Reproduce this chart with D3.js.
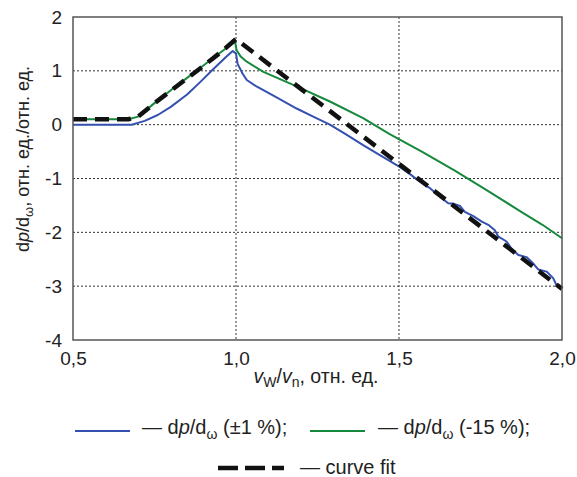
<!DOCTYPE html>
<html><head><meta charset="utf-8">
<script src="https://cdn.jsdelivr.net/npm/d3@7"></script>
<style>body{margin:0;background:#fff}svg{font-family:"Liberation Sans",Arial,sans-serif}</style>
</head><body>
<svg id="c" width="577" height="477"></svg>
<script>
const xTicks = [0.5, 1.0, 1.5, 2.0];
const xTickLabels = ["0,5", "1,0", "1,5", "2,0"];
const yTicks = [2, 1, 0, -1, -2, -3, -4];
const yTickLabels = ["2", "1", "0", "-1", "-2", "-3", "-4"];

const blueX = [0.5,0.68,0.72,0.76,0.8,0.85,0.89,0.93,0.97,0.99,1.0,1.005,1.02,1.033,1.06,1.084,1.13,1.186,1.24,1.288,1.34,1.39,1.44,1.493,1.53,1.564,1.595,1.626,1.651,1.667,1.687,1.702,1.728,1.754,1.774,1.794,1.805,1.83,1.845,1.866,1.891,1.912,1.927,1.953,1.973,1.983,2.0];
const blueY = [0,0,0.07,0.18,0.33,0.56,0.79,1.03,1.26,1.37,1.32,1.13,0.95,0.83,0.72,0.64,0.49,0.30,0.14,0.0,-0.19,-0.38,-0.56,-0.75,-0.9,-1.06,-1.18,-1.34,-1.46,-1.47,-1.51,-1.62,-1.70,-1.80,-1.86,-1.96,-2.08,-2.17,-2.30,-2.42,-2.46,-2.58,-2.69,-2.73,-2.85,-2.98,-3.04];

const greenX = [0.5,0.67,0.7,0.75,0.8,0.85,0.9,0.95,0.997,1.002,1.015,1.033,1.084,1.186,1.288,1.39,1.47,1.57,1.67,1.77,1.87,1.94,2.0];
const greenY = [0.1,0.1,0.15,0.4,0.64,0.87,1.1,1.33,1.54,1.38,1.26,1.17,0.98,0.71,0.43,0.12,-0.17,-0.5,-0.85,-1.22,-1.6,-1.86,-2.11];

const fitX = [0.5,0.67,0.7,0.75,0.8,0.85,0.9,0.95,1.0,2.0];
const fitY = [0.1,0.1,0.15,0.4,0.63,0.86,1.09,1.33,1.59,-3.05];

const svg = d3.select("#c");
const L = 73, R = 562, T = 17, B = 340;
const x = d3.scaleLinear().domain([0.5, 2.0]).range([L, R]);
const y = d3.scaleLinear().domain([-4, 2]).range([B, T]);
const FONT = "Liberation Sans, Arial, sans-serif";

// grid
const g = svg.append("g");
g.selectAll(".gx").data(xTicks.slice(1, -1)).enter().append("line")
  .attr("x1", d => x(d)).attr("x2", d => x(d)).attr("y1", T).attr("y2", B)
  .attr("stroke", "#333").attr("stroke-width", 1).attr("stroke-dasharray", "2,2");
g.selectAll(".gy").data(yTicks.slice(1, -1)).enter().append("line")
  .attr("y1", d => y(d)).attr("y2", d => y(d)).attr("x1", L).attr("x2", R)
  .attr("stroke", "#333").attr("stroke-width", 1).attr("stroke-dasharray", "2,2");

// axes
const xAxis = d3.axisBottom(x).tickValues(xTicks).tickFormat((d, i) => xTickLabels[i]).tickSize(0).tickPadding(12);
const xa = svg.append("g").attr("transform", `translate(0,${B})`).call(xAxis);
xa.select(".domain").remove();
xa.selectAll("text").attr("font-size", 19).attr("fill", "#222").attr("font-family", FONT);

const yAxis = d3.axisLeft(y).tickValues(yTicks).tickFormat((d, i) => yTickLabels[i]).tickSize(0).tickPadding(11);
const ya = svg.append("g").attr("transform", `translate(${L},0)`).call(yAxis);
ya.select(".domain").remove();
ya.selectAll("text").attr("font-size", 19).attr("fill", "#222").attr("font-family", FONT);

// lines
const line = d3.line().x(d => x(d[0])).y(d => y(d[1]));
const zip = (a, b) => a.map((v, i) => [v, b[i]]);
svg.append("path").datum(zip(blueX, blueY)).attr("d", line).attr("fill", "none")
  .attr("stroke", "#3450b0").attr("stroke-width", 2).attr("stroke-linejoin", "round");
svg.append("path").datum(zip(greenX, greenY)).attr("d", line).attr("fill", "none")
  .attr("stroke", "#16893c").attr("stroke-width", 2).attr("stroke-linejoin", "round");
svg.append("path").datum(zip(fitX, fitY)).attr("d", line).attr("fill", "none")
  .attr("stroke", "#111").attr("stroke-width", 4.5).attr("stroke-dasharray", "14,8");

// frame
svg.append("rect").attr("x", L).attr("y", T).attr("width", R - L).attr("height", B - T)
  .attr("fill", "none").attr("stroke", "#555").attr("stroke-width", 1.5);

// axis titles
const xt = svg.append("text").attr("x", 316).attr("y", 383).attr("text-anchor", "middle")
  .attr("font-size", 19.5).attr("fill", "#222");
xt.append("tspan").attr("font-style", "italic").text("v");
xt.append("tspan").attr("font-size", 14).attr("dy", 4).text("W");
xt.append("tspan").attr("dy", -4).text("/");
xt.append("tspan").attr("font-style", "italic").text("v");
xt.append("tspan").attr("font-size", 14).attr("dy", 4).text("n");
xt.append("tspan").attr("dy", -4).text(", отн. ед.");

const yt = svg.append("text").attr("transform", "translate(29,159) rotate(-90)")
  .attr("text-anchor", "middle").attr("font-size", 18).attr("fill", "#222");
yt.append("tspan").text("d");
yt.append("tspan").attr("font-style", "italic").text("p");
yt.append("tspan").text("/d");
yt.append("tspan").attr("font-size", 13).attr("dy", 4).text("ω");
yt.append("tspan").attr("dy", -4).text(", отн. ед./отн. ед.");

// legend
function legendText(xp, yp, suffix) {
  const t = svg.append("text").attr("x", xp).attr("y", yp).attr("font-size", 20).attr("fill", "#222");
  t.append("tspan").text("— d");
  t.append("tspan").attr("font-style", "italic").text("p");
  t.append("tspan").text("/d");
  t.append("tspan").attr("font-size", 14).attr("dy", 5).text("ω");
  t.append("tspan").attr("dy", -5).text(suffix);
}
svg.append("line").attr("x1", 75).attr("x2", 130).attr("y1", 431).attr("y2", 431).attr("stroke", "#3450b0").attr("stroke-width", 2);
legendText(142, 434, " (±1 %);");
svg.append("line").attr("x1", 310).attr("x2", 365).attr("y1", 431).attr("y2", 431).attr("stroke", "#16893c").attr("stroke-width", 2);
legendText(378, 434, " (-15 %);");
svg.append("line").attr("x1", 218).attr("x2", 284).attr("y1", 468).attr("y2", 468).attr("stroke", "#111").attr("stroke-width", 4.5).attr("stroke-dasharray", "20,7");
svg.append("text").attr("x", 300).attr("y", 474).attr("font-size", 20).attr("fill", "#222").text("— curve fit");
</script>
</body></html>
